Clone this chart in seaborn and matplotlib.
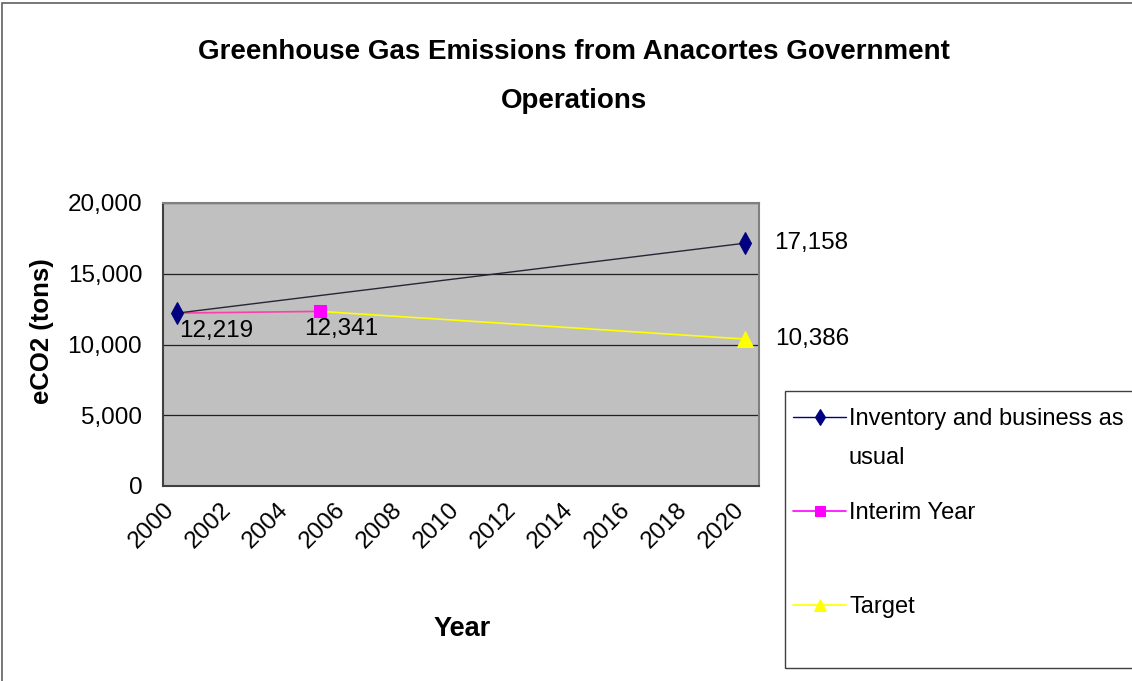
import matplotlib
matplotlib.use("Agg")
import matplotlib.pyplot as plt
import matplotlib.patches as mpatches
import seaborn as sns

# series values
years_bau = [2000.5, 2020.4]
bau = [12219, 17158]
years_interim = [2000.5, 2005.5]
interim = [12219, 12341]
years_target = [2005.5, 2020.4]
target = [12341, 10386]

year_ticks = list(range(2000, 2021, 2))
y_ticks = [0, 5000, 10000, 15000, 20000]

sns.set_style("white")
plt.rcParams['font.family'] = ['Liberation Sans', 'DejaVu Sans']
for k in ['text.color', 'axes.labelcolor', 'xtick.color', 'ytick.color']:
    plt.rcParams[k] = 'black'

fig = plt.figure(figsize=(11.32, 6.81), dpi=100)
ax = fig.add_axes([163/1132, 1-486/681, (759-163)/1132, (486-203)/681])
ax.set_facecolor("#C0C0C0")

sns.lineplot(x=years_target, y=target, ax=ax, color="#FFFF00", lw=1.2,
             marker="^", markersize=11, markeredgecolor="#FFFF00",
             markevery=[1], zorder=3, label="Target")
sns.lineplot(x=years_interim, y=interim, ax=ax, color="#FF3FA8", lw=1.2,
             marker="s", markersize=8.5, markeredgecolor="#FF00FF", markerfacecolor="#FF00FF",
             markevery=[1], zorder=4, label="Interim Year")
sns.lineplot(x=years_bau, y=bau, ax=ax, color="#262636", lw=1.0,
             marker="d", markersize=11, markeredgecolor="#000080", markerfacecolor="#000080",
             zorder=5, label="Inventory and business as")

# data labels
ax.annotate("12,219", (years_bau[0], bau[0]), xytext=(1, -5), textcoords="offset points",
            ha="left", va="top", fontsize=17.5)
ax.annotate("12,341", (years_interim[1], interim[1]), xytext=(-11, -5), textcoords="offset points",
            ha="left", va="top", fontsize=17.5)
ax.annotate("17,158", (years_bau[1], bau[1]), xytext=(21, 0), textcoords="offset points",
            ha="left", va="center", fontsize=17.5, annotation_clip=False)
ax.annotate("10,386", (years_target[1], target[1]), xytext=(22, 0), textcoords="offset points",
            ha="left", va="center", fontsize=17.5, annotation_clip=False)

ax.set_xlim(2000, 2020.9)
ax.set_ylim(0, 20000)
ax.set_xticks(year_ticks)
ax.set_xticklabels([str(y) for y in year_ticks], rotation=45, ha="right",
                   rotation_mode="anchor", fontsize=17.5)
ax.set_yticks(y_ticks)
ax.set_yticklabels([f"{v:,}" for v in y_ticks], fontsize=17.5)
ax.tick_params(axis="both", direction="out", length=5, width=1, color="#404040")
ax.tick_params(axis="y", pad=10)
ax.tick_params(axis="x", pad=4)
ax.grid(axis="y", color="#202020", lw=0.9)
ax.grid(axis="x", visible=False)
for s in ax.spines.values():
    s.set_color("#808080")
    s.set_linewidth(1.5)
ax.spines["left"].set_color("#404040")
ax.spines["bottom"].set_color("#404040")

ax.set_xlabel("Year", fontsize=19.5, fontweight="bold")
ax.xaxis.set_label_coords((462-163)/596, (486-616)/283)
ax.set_ylabel("eCO2 (tons)", fontsize=18.5, fontweight="bold")
ax.yaxis.set_label_coords((54-163)/596, (486-331)/283)

fig.text(574/1132, 1-52/681, "Greenhouse Gas Emissions from Anacortes Government",
         ha="center", va="center", fontsize=20, fontweight="bold")
fig.text(574/1132, 1-101/681, "Operations", ha="center", va="center",
         fontsize=20, fontweight="bold")

handles, labels = ax.get_legend_handles_labels()
ax.get_legend().remove()
order = [2, 1, 0]
leg = fig.legend([handles[i] for i in order], [labels[i] for i in order],
                 loc="upper left", bbox_to_anchor=(793/1132, 1-408/681),
                 fontsize=17, frameon=False, labelspacing=3.05,
                 handlelength=2.25, handletextpad=0.13, borderpad=0,
                 borderaxespad=0)
leg.legend_handles[0].set_color("#000080")
leg.legend_handles[0].set_markersize(8)
leg.legend_handles[1].set_color("#FF00FF")
leg.legend_handles[1].set_markersize(7)
leg.legend_handles[2].set_markersize(9)
# second line of the first legend entry
fig.text(849/1132, 1-458/681, "usual", ha="left", va="center", fontsize=17)
# legend box
fig.patches.append(mpatches.Rectangle((785/1132, 1-668/681), 0.4, (668-391)/681,
                                      transform=fig.transFigure, fill=False,
                                      edgecolor="#404040", lw=1))

# outer chart border
fig.patches.append(mpatches.Rectangle((2/1132, -0.1), 1.2, 1.1 - 3/681, transform=fig.transFigure,
                                      fill=False, edgecolor="#606060", lw=1.2))

fig.savefig("out.png", dpi=100)
